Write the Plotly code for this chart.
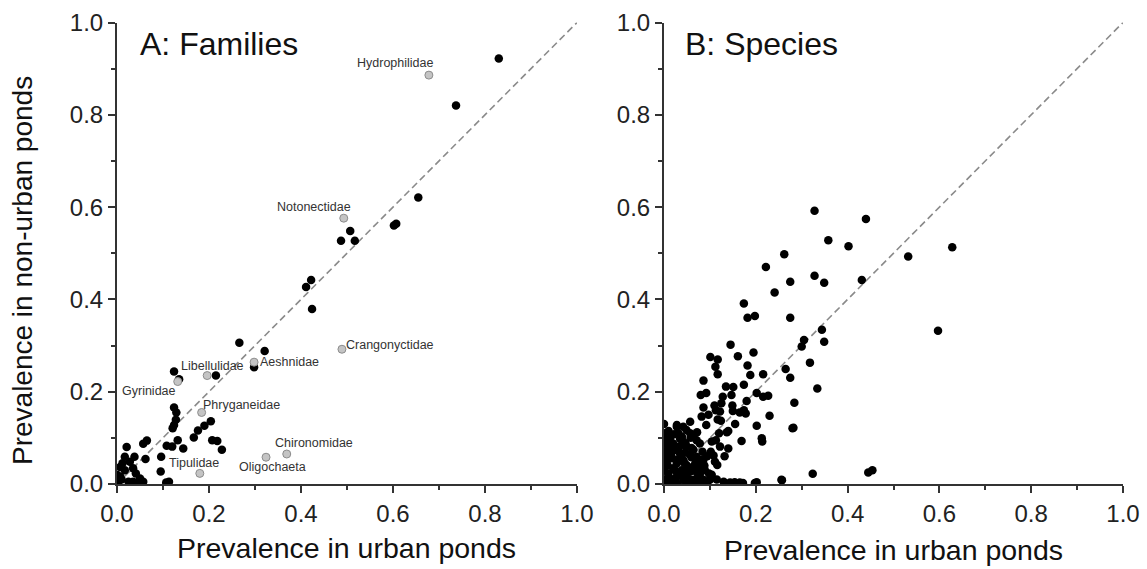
import plotly.graph_objects as go

# ---------------- Data ----------------
ONE_TO_ONE = [0.0, 1.0]
TICK_VALS = [0.0, 0.2, 0.4, 0.6, 0.8, 1.0]

# Panel A: families (black = unlabelled)
fam_urban = [0.830, 0.737, 0.655, 0.607, 0.602, 0.507, 0.487, 0.517, 0.422, 0.411, 0.424,
             0.266, 0.321, 0.298, 0.124, 0.215, 0.135, 0.124, 0.129, 0.128, 0.121, 0.124,
             0.204, 0.190, 0.176, 0.167, 0.207, 0.218, 0.228, 0.132, 0.144, 0.120, 0.108,
             0.065, 0.057, 0.062, 0.096, 0.095, 0.113, 0.107, 0.021, 0.038, 0.017, 0.028,
             0.007, 0.035, 0.017, 0.041, 0.050, 0.007, 0.003, 0.025, 0.057, 0.035, 0.000, 0.000,
             0.012, 0.045, 0.010]
fam_nonurban = [0.922, 0.820, 0.621, 0.564, 0.560, 0.548, 0.527, 0.527, 0.442, 0.427, 0.379,
                0.306, 0.288, 0.253, 0.244, 0.235, 0.227, 0.166, 0.155, 0.139, 0.121, 0.128,
                0.136, 0.126, 0.116, 0.101, 0.095, 0.093, 0.074, 0.095, 0.077, 0.081, 0.083,
                0.094, 0.087, 0.054, 0.059, 0.027, 0.005, 0.003, 0.080, 0.059, 0.059, 0.048,
                0.037, 0.034, 0.030, 0.023, 0.012, 0.016, 0.005, 0.005, 0.005, 0.005, 0.020, 0.000,
                0.045, 0.003, 0.010]

# Panel A: labelled families (grey)
lab_names = ["Hydrophilidae", "Notonectidae", "Crangonyctidae", "Aeshnidae", "Libellulidae",
             "Gyrinidae", "Phryganeidae", "Chironomidae", "Oligochaeta", "Tipulidae"]
lab_urban = [0.678, 0.493, 0.489, 0.298, 0.196, 0.132, 0.184, 0.369, 0.324, 0.180]
lab_nonurban = [0.886, 0.576, 0.292, 0.264, 0.235, 0.222, 0.155, 0.065, 0.058, 0.023]
lab_dx = [-34, -30, 48, 35, 5, -29, 40, 27, 6, -6]   # pixel offsets of label text
lab_dy = [12, 11, 4, 0, 10, -9, 7, 11, -10, 10]

# Panel B: species
sp_urban = [0.328, 0.440, 0.358, 0.402, 0.262, 0.628, 0.532, 0.222, 0.328, 0.275, 0.349, 0.431,
            0.241, 0.174, 0.182, 0.198, 0.275, 0.344, 0.597, 0.305, 0.349, 0.300, 0.145, 0.101,
            0.117, 0.161, 0.195, 0.112, 0.117, 0.182, 0.188, 0.216, 0.318, 0.265, 0.275, 0.334,
            0.284, 0.280, 0.324, 0.445, 0.454, 0.256,
            0.086, 0.135, 0.151, 0.174, 0.080, 0.092, 0.128, 0.147, 0.202, 0.216, 0.227, 0.086,
            0.149, 0.113, 0.122, 0.150, 0.165, 0.174, 0.178, 0.097, 0.117, 0.124, 0.082, 0.057,
            0.028, 0.202, 0.230, 0.137, 0.282, 0.169, 0.213, 0.214, 0.104, 0.113, 0.122, 0.140,
            0.102, 0.086, 0.111, 0.116, 0.078, 0.089, 0.098,
            0.115, 0.130, 0.144, 0.154, 0.165, 0.172, 0.198, 0.202, 0.257,
            0.028, 0.042, 0.049, 0.031, 0.057, 0.039, 0.013, 0.006, 0.064, 0.071, 0.078, 0.042,
            0.020, 0.009, 0.028, 0.049, 0.064, 0.013, 0.002, 0.035, 0.057, 0.071, 0.017, 0.042,
            0.006, 0.028, 0.049, 0.064, 0.002, 0.020, 0.039, 0.057, 0.078, 0.009, 0.031, 0.049,
            0.071, 0.013, 0.002, 0.024, 0.042, 0.060, 0.086, 0.100,
            0.000, 0.000, 0.000, 0.000, 0.000, 0.000, 0.000, 0.000,
            0.015, 0.030, 0.050, 0.070, 0.090,
            0.010, 0.022, 0.035, 0.047, 0.060, 0.016, 0.030, 0.044, 0.055, 0.068, 0.008, 0.024,
            0.036, 0.052, 0.066, 0.082, 0.012, 0.026, 0.040, 0.054, 0.068, 0.080, 0.094, 0.020,
            0.034, 0.046, 0.060, 0.074, 0.088, 0.006, 0.018, 0.032, 0.044, 0.058, 0.072, 0.084,
            0.108, 0.120, 0.092, 0.104, 0.132, 0.110, 0.125, 0.140, 0.155, 0.180]
sp_nonurban = [0.592, 0.574, 0.528, 0.515, 0.498, 0.513, 0.493, 0.470, 0.451, 0.438, 0.436, 0.442,
               0.415, 0.391, 0.360, 0.364, 0.360, 0.334, 0.332, 0.312, 0.308, 0.298, 0.302, 0.275,
               0.270, 0.277, 0.285, 0.254, 0.238, 0.257, 0.236, 0.238, 0.263, 0.249, 0.230, 0.207,
               0.176, 0.121, 0.022, 0.025, 0.030, 0.009,
               0.224, 0.211, 0.210, 0.215, 0.193, 0.197, 0.189, 0.193, 0.197, 0.189, 0.191, 0.166,
               0.170, 0.160, 0.157, 0.158, 0.155, 0.160, 0.153, 0.150, 0.140, 0.137, 0.146, 0.135,
               0.128, 0.126, 0.148, 0.112, 0.122, 0.093, 0.099, 0.092, 0.092, 0.095, 0.081, 0.077,
               0.070, 0.053, 0.048, 0.041, 0.036, 0.030, 0.023,
               0.010, 0.005, 0.003, 0.004, 0.003, 0.002, 0.002, 0.004, 0.008,
               0.124, 0.124, 0.117, 0.110, 0.110, 0.103, 0.099, 0.095, 0.103, 0.095, 0.088, 0.092,
               0.088, 0.081, 0.077, 0.081, 0.074, 0.070, 0.066, 0.066, 0.063, 0.059, 0.056, 0.052,
               0.048, 0.045, 0.041, 0.037, 0.037, 0.034, 0.030, 0.027, 0.020, 0.023, 0.020, 0.016,
               0.012, 0.012, 0.009, 0.009, 0.009, 0.009, 0.009, 0.009,
               0.130, 0.110, 0.090, 0.070, 0.050, 0.030, 0.010, 0.000,
               0.000, 0.000, 0.000, 0.002, 0.000,
               0.115, 0.108, 0.098, 0.088, 0.078, 0.060, 0.052, 0.046, 0.036, 0.028, 0.040, 0.030,
               0.020, 0.012, 0.004, 0.004, 0.002, 0.014, 0.022, 0.030, 0.044, 0.052, 0.060, 0.072,
               0.082, 0.068, 0.058, 0.048, 0.040, 0.060, 0.082, 0.054, 0.020, 0.100, 0.112, 0.070,
               0.062, 0.110, 0.128, 0.020, 0.060, 0.170, 0.175, 0.115, 0.130, 0.180]

# ---------------- Figure ----------------
W, H = 1147, 569
FONT = "Arial, Liberation Sans, sans-serif"
fig = go.Figure()

diag_style = dict(color="#8a8a8a", width=1.6, dash="7px,4px")
fig.add_trace(go.Scatter(x=ONE_TO_ONE, y=ONE_TO_ONE, mode="lines", line=diag_style,
                         hoverinfo="skip", xaxis="x", yaxis="y"))
fig.add_trace(go.Scatter(x=ONE_TO_ONE, y=ONE_TO_ONE, mode="lines", line=diag_style,
                         hoverinfo="skip", xaxis="x2", yaxis="y2"))

fig.add_trace(go.Scatter(x=fam_urban, y=fam_nonurban, mode="markers",
                         marker=dict(size=8.5, color="black"), xaxis="x", yaxis="y"))
fig.add_trace(go.Scatter(x=lab_urban, y=lab_nonurban, mode="markers",
                         marker=dict(size=8, color="#c4c4c4", line=dict(color="#8c8c8c", width=1)),
                         text=lab_names, xaxis="x", yaxis="y"))
fig.add_trace(go.Scatter(x=sp_urban, y=sp_nonurban, mode="markers",
                         marker=dict(size=8.5, color="black"), xaxis="x2", yaxis="y2"))

annotations = []
for name, xv, yv, dx, dy in zip(lab_names, lab_urban, lab_nonurban, lab_dx, lab_dy):
    annotations.append(dict(x=xv, y=yv, xref="x", yref="y", text=name, showarrow=False,
                            xshift=dx, yshift=dy,
                            font=dict(family=FONT, size=12.5, color="#333333")))

annotations += [
    dict(x=138 / W, y=1 - 44 / H, xref="paper", yref="paper", text="A: Families",
         showarrow=False, xanchor="left", yanchor="middle",
         font=dict(family=FONT, size=32, color="#111111")),
    dict(x=683 / W, y=1 - 44 / H, xref="paper", yref="paper", text="B: Species",
         showarrow=False, xanchor="left", yanchor="middle",
         font=dict(family=FONT, size=32, color="#111111")),
    dict(x=346 / W, y=1 - 548 / H, xref="paper", yref="paper", text="Prevalence in urban ponds",
         showarrow=False, xanchor="center", yanchor="middle",
         font=dict(family=FONT, size=28.5, color="#111111")),
    dict(x=893 / W, y=1 - 550 / H, xref="paper", yref="paper", text="Prevalence in urban ponds",
         showarrow=False, xanchor="center", yanchor="middle",
         font=dict(family=FONT, size=28.5, color="#111111")),
    dict(x=22 / W, y=1 - 271 / H, xref="paper", yref="paper", text="Prevalence in non-urban ponds",
         showarrow=False, xanchor="center", yanchor="middle", textangle=-90,
         font=dict(family=FONT, size=28, color="#111111")),
]

axis_common = dict(range=[0, 1], tickvals=TICK_VALS, tickformat=".1f", showgrid=False,
                   zeroline=False, showline=True, linecolor="#333333", linewidth=2,
                   ticks="outside", ticklen=7, tickwidth=1.5, tickcolor="#333333",
                   minor=dict(ticks="outside", ticklen=4, tickwidth=1.5, tickcolor="#333333",
                              dtick=0.1),
                   automargin=False,
                   tickfont=dict(family=FONT, size=24, color="#222222"), fixedrange=True)

ydom = [85 / H, 546.5 / H]
fig.update_layout(
    width=W, height=H, margin=dict(l=0, r=0, t=0, b=0, autoexpand=False),
    paper_bgcolor="white", plot_bgcolor="white", showlegend=False,
    xaxis=dict(domain=[117 / W, 577 / W], anchor="y", **axis_common),
    yaxis=dict(domain=ydom, anchor="x", **axis_common),
    xaxis2=dict(domain=[664 / W, 1123 / W], anchor="y2", **axis_common),
    yaxis2=dict(domain=ydom, anchor="x2", **axis_common),
    annotations=annotations,
)

fig.write_html("out.html")
